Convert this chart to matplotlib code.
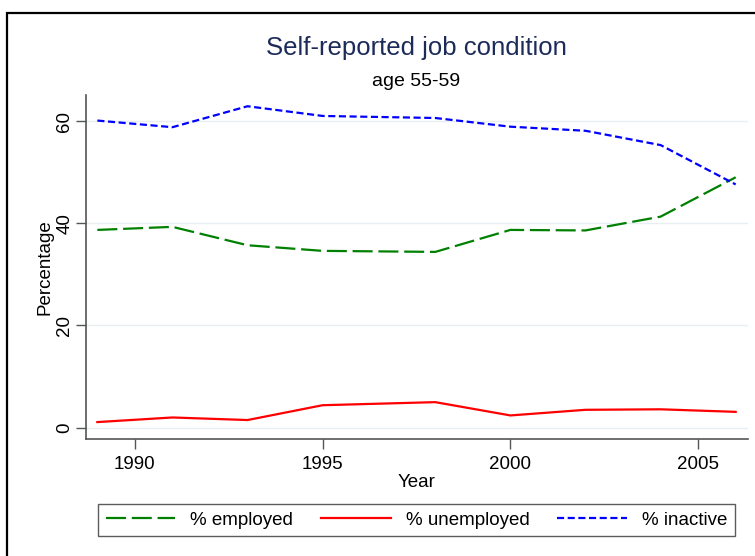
import matplotlib
matplotlib.use("Agg")
import matplotlib.pyplot as plt
from matplotlib.patches import Rectangle

plt.rcParams['font.family'] = ['Liberation Sans', 'DejaVu Sans']

years = [1989, 1991, 1993, 1995, 1998, 2000, 2002, 2004, 2006]
employed = [38.7, 39.3, 35.7, 34.6, 34.4, 38.7, 38.6, 41.3, 49.0]
unemployed = [1.1, 2.0, 1.5, 4.4, 5.0, 2.4, 3.5, 3.6, 3.1]
inactive = [60.1, 58.8, 62.9, 61.0, 60.6, 58.9, 58.1, 55.3, 47.6]

xticks = [1990, 1995, 2000, 2005]
yticks = [0, 20, 40, 60]

fig = plt.figure(figsize=(7.55, 5.56), dpi=100)
# outer frame of the graph region
fig.patches.append(Rectangle((7 / 755, -0.05), 1.1, 1 - 13 / 556 + 0.05,
                             transform=fig.transFigure, fill=False,
                             edgecolor='black', linewidth=1.6))

ax = fig.add_axes([85.7 / 755, 1 - 439.3 / 556, (747.7 - 85.7) / 755, (439.3 - 95) / 556])

l1, = ax.plot(years, employed, color='#008000', lw=1.6, dashes=(9, 2.6))
l2, = ax.plot(years, unemployed, color='#ff0000', lw=1.6)
l3, = ax.plot(years, inactive, color='#0000ff', lw=1.6, dashes=(3.2, 1.6))

ax.set_xlim(1988.69, 2006.32)
ax.set_ylim(-2.27, 65.1)
ax.set_xticks(xticks)
ax.set_yticks(yticks)
ax.grid(axis='y', color='#e8eff2', lw=1)
ax.set_axisbelow(True)
for s in ['top', 'right']:
    ax.spines[s].set_visible(False)
for s in ['left', 'bottom']:
    ax.spines[s].set_color('#555555')
    ax.spines[s].set_linewidth(1.2)
ax.tick_params(direction='out', length=7, width=1, color='#555555', labelsize=13.5)
ax.tick_params(axis='x', pad=5)
ax.tick_params(axis='y', pad=2)
plt.setp(ax.get_yticklabels(), rotation=90, va='center')

ax.set_xlabel('Year', fontsize=13.5, labelpad=1)
ax.set_ylabel('Percentage', fontsize=13.5, labelpad=2)

fig.text(416 / 755, 1 - 48 / 556, 'Self-reported job condition', ha='center', va='center',
         fontsize=18.5, color='#1c2b5a')
fig.text(416 / 755, 1 - 81 / 556, 'age 55-59', ha='center', va='center', fontsize=14)

leg = fig.legend([l1, l2, l3], ['% employed', '% unemployed', '% inactive'],
                 loc='center', bbox_to_anchor=(416.5 / 755, 1 - 520 / 556), ncol=3,
                 fontsize=13.5, handlelength=3.7, handletextpad=0.8, columnspacing=1.5,
                 fancybox=False, edgecolor='#333333', borderpad=0.4, borderaxespad=0)
leg.get_frame().set_linewidth(1)

fig.savefig('out.png', dpi=100)
